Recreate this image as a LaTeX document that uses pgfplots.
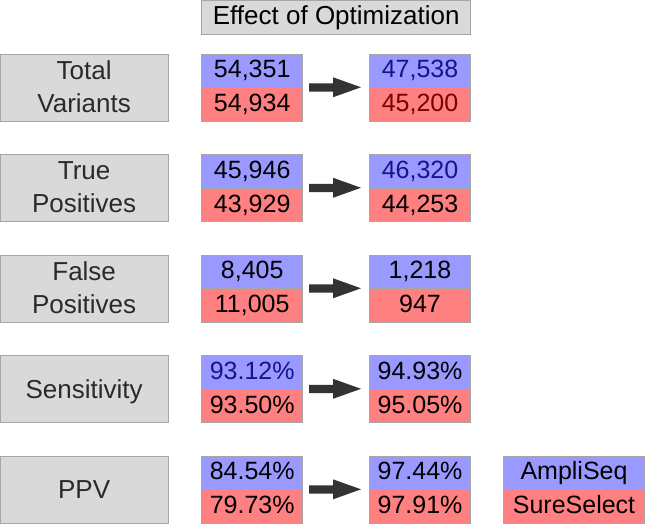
\documentclass[border=0pt]{standalone}
\usepackage{pgfplots}
\pgfplotsset{compat=1.18}
\usepackage{fontspec}
\setmainfont{Liberation Sans}
\definecolor{cellblue}{HTML}{9999FF}
\definecolor{cellred}{HTML}{FF8080}
\definecolor{cellgray}{HTML}{D9D9D9}
\definecolor{bordc}{HTML}{A6A6A6}
\definecolor{arrowc}{HTML}{333333}
\definecolor{dblue}{HTML}{14148C}
\definecolor{dred}{HTML}{7A0000}
\definecolor{labc}{HTML}{2A2A2A}
\newcommand{\bx}[5]{\addplot[fill=#1, draw=bordc, line width=0.9pt] coordinates {(#2,#3) (#4,#3) (#4,#5) (#2,#5)} -- cycle;}
\newcommand{\arr}[5]{\addplot[fill=arrowc, draw=none] coordinates {(309,#2) (333,#2) (333,#1) (361,#3) (333,#5) (333,#4) (309,#4)} -- cycle;}
\newcommand{\txtfont}{\fontsize{25}{29}\selectfont}
\newcommand{\labfont}{\fontsize{26}{30}\selectfont}
\begin{document}
\begin{tikzpicture}
\begin{axis}[
  width=645pt, height=524pt, scale only axis,
  xmin=0, xmax=645, ymin=0, ymax=524, y dir=reverse,
  hide axis, clip=false,
]
% title box
\bx{cellgray}{201.7}{0.5}{470.7}{34}
% label boxes
\bx{cellgray}{0.5}{54}{168}{121}
\bx{cellgray}{0.5}{154.5}{168}{221.5}
\bx{cellgray}{0.5}{255}{168}{322}
\bx{cellgray}{0.5}{355.5}{168}{422.5}
\bx{cellgray}{0.5}{456}{168}{523}
% value cells: left
\bx{cellblue}{201.7}{54}{302.7}{87.5}
\bx{cellred}{201.7}{87.5}{302.7}{121}
\bx{cellblue}{201.7}{154.5}{302.7}{188}
\bx{cellred}{201.7}{188}{302.7}{221.5}
\bx{cellblue}{201.7}{255}{302.7}{288.5}
\bx{cellred}{201.7}{288.5}{302.7}{322}
\bx{cellblue}{201.7}{355.5}{302.7}{389}
\bx{cellred}{201.7}{389}{302.7}{422.5}
\bx{cellblue}{201.7}{456}{302.7}{489.5}
\bx{cellred}{201.7}{489.5}{302.7}{523}
% value cells: right
\bx{cellblue}{369.3}{54}{470.7}{87.5}
\bx{cellred}{369.3}{87.5}{470.7}{121}
\bx{cellblue}{369.3}{154.5}{470.7}{188}
\bx{cellred}{369.3}{188}{470.7}{221.5}
\bx{cellblue}{369.3}{255}{470.7}{288.5}
\bx{cellred}{369.3}{288.5}{470.7}{322}
\bx{cellblue}{369.3}{355.5}{470.7}{389}
\bx{cellred}{369.3}{389}{470.7}{422.5}
\bx{cellblue}{369.3}{456}{470.7}{489.5}
\bx{cellred}{369.3}{489.5}{470.7}{523}
% legend cells
\bx{cellblue}{503.3}{456}{644.5}{489.5}
\bx{cellred}{503.3}{489.5}{644.5}{523}
% arrows
\arr{77.3}{83.3}{87.3}{91.7}{97.3}
\arr{177.8}{183.8}{187.8}{192.2}{197.8}
\arr{278.3}{284.3}{288.3}{292.7}{298.3}
\arr{378.8}{384.8}{388.8}{393.2}{398.8}
\arr{479.3}{485.3}{489.3}{493.7}{499.3}
% values
\addplot[draw=none, nodes near coords, point meta=explicit symbolic,
  nodes near coords align=center,
  every node near coord/.append style={font=\txtfont, text height=17.9pt, text depth=0pt, inner sep=0pt, anchor=center, text=black}]
coordinates {
(252.2,68.7) [54{,}351]
(252.2,102.7) [54{,}934]
(420,68.7) [\textcolor{dblue}{47{,}538}]
(420,102.7) [\textcolor{dred}{45{,}200}]
(252.2,169.2) [45{,}946]
(252.2,203.2) [43{,}929]
(420,169.2) [\textcolor{dblue}{46{,}320}]
(420,203.2) [44{,}253]
(252.2,269.7) [8{,}405]
(252.2,303.7) [11{,}005]
(420,269.7) [1{,}218]
(420,303.7) [947]
(252.2,370.2) [\textcolor{dblue}{93.12\%}]
(252.2,404.2) [93.50\%]
(420,370.2) [94.93\%]
(420,404.2) [95.05\%]
(252.2,470.7) [84.54\%]
(252.2,504.7) [79.73\%]
(420,470.7) [97.44\%]
(420,504.7) [97.91\%]
};
% texts
\node[anchor=base, font=\labfont, inner sep=0pt] at (axis cs:336.2,24.5) {Effect of Optimization};
\node[anchor=base, font=\labfont, inner sep=0pt, text=labc] at (axis cs:84.2,79.5) {Total};
\node[anchor=base, font=\labfont, inner sep=0pt, text=labc] at (axis cs:84.2,112.5) {Variants};
\node[anchor=base, font=\labfont, inner sep=0pt, text=labc] at (axis cs:84.2,180) {True};
\node[anchor=base, font=\labfont, inner sep=0pt, text=labc] at (axis cs:84.2,213) {Positives};
\node[anchor=base, font=\labfont, inner sep=0pt, text=labc] at (axis cs:84.2,280.5) {False};
\node[anchor=base, font=\labfont, inner sep=0pt, text=labc] at (axis cs:84.2,313.5) {Positives};
\node[anchor=base, font=\labfont, inner sep=0pt, text=labc] at (axis cs:84.2,398) {Sensitivity};
\node[anchor=base, font=\labfont, inner sep=0pt, text=labc] at (axis cs:84.2,498.5) {PPV};
\node[anchor=base, font=\txtfont, inner sep=0pt] at (axis cs:574,479.5) {AmpliSeq};
\node[anchor=base, font=\txtfont, inner sep=0pt] at (axis cs:574,513.5) {SureSelect};
\end{axis}
\end{tikzpicture}
\end{document}
